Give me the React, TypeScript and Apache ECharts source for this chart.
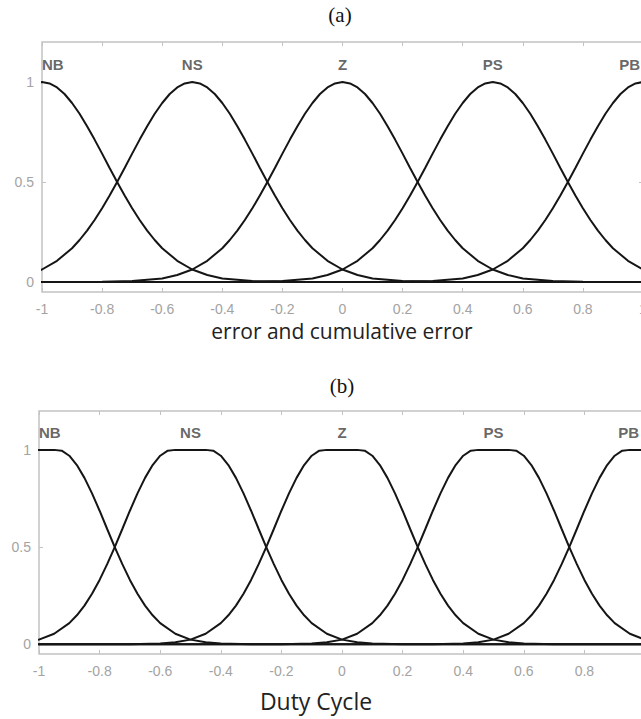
import React, { useEffect, useRef } from "react";
import * as echarts from "echarts";

// Fuzzy sets and where each one peaks on the normalised universe [-1, 1]
const categories = ["NB", "NS", "Z", "PS", "PB"];
const centers = [-1, -0.5, 0, 0.5, 1];

// Distance from a set's centre, and the membership read at that distance
const offsets = [
  0, 0.025, 0.05, 0.075, 0.1, 0.125, 0.15, 0.175, 0.2, 0.225, 0.25, 0.275, 0.3,
  0.325, 0.35, 0.375, 0.4, 0.45, 0.5, 0.55, 0.6, 0.7, 0.8, 1.0, 2.0,
];
// (a) bell-shaped sets of the error inputs
const errorShape = [
  1, 0.993, 0.973, 0.94, 0.895, 0.841, 0.779, 0.712, 0.642, 0.57, 0.5, 0.432,
  0.369, 0.31, 0.257, 0.21, 0.169, 0.106, 0.0625, 0.035, 0.018, 0.0044, 0.0008,
  0, 0,
];
// (b) flat-topped sets of the duty-cycle output
const dutyShape = [
  1, 1, 1, 0.996, 0.97, 0.922, 0.856, 0.776, 0.687, 0.593, 0.5, 0.412, 0.331,
  0.26, 0.199, 0.149, 0.109, 0.054, 0.024, 0.01, 0.0037, 0.0004, 0, 0, 0,
];

const yTickValues = [0, 0.5, 1];
const labelHeight = 1.09;

const AXIS_GREY = "#c2c2c2";
const TICK_TEXT = "#a3a3a3";
const CURVE = "#151515";

function buildCurve(center: number, shape: number[]): number[][] {
  const pts: number[][] = [];
  for (let i = offsets.length - 1; i >= 1; i--) pts.push([center - offsets[i], shape[i]]);
  for (let i = 0; i < offsets.length; i++) pts.push([center + offsets[i], shape[i]]);
  return pts;
}

function fmt(v: number): string {
  const r = Math.round(v * 100) / 100;
  return String(r);
}

export default function App() {
  const ref = useRef<HTMLDivElement>(null);

  useEffect(() => {
    if (!ref.current) return;
    const chart = echarts.init(ref.current, null, { renderer: "svg" });

    const grids = [
      { left: 42, top: 42, width: 601, height: 250 },
      { left: 39, top: 411, width: 606, height: 243 },
    ];

    const xAxes: any[] = [];
    const yAxes: any[] = [];
    grids.forEach((_, gi) => {
      const tick = {
        inside: true,
        length: 4,
        lineStyle: { color: AXIS_GREY, width: 1 },
      };
      const hiddenLine = { show: false, onZero: false };
      xAxes.push({
        gridIndex: gi,
        type: "value",
        position: "bottom",
        min: -1,
        max: 1,
        interval: 0.2,
        axisLine: hiddenLine,
        splitLine: { show: false },
        axisTick: tick,
        axisLabel: {
          color: TICK_TEXT,
          fontSize: 14,
          fontFamily: "Liberation Sans",
          margin: 10,
          formatter: (v: number) => fmt(v),
        },
      });
      xAxes.push({
        gridIndex: gi,
        type: "value",
        position: "top",
        min: -1,
        max: 1,
        interval: 0.2,
        axisLine: hiddenLine,
        splitLine: { show: false },
        axisTick: tick,
        axisLabel: { show: false },
      });
      yAxes.push({
        gridIndex: gi,
        type: "value",
        position: "left",
        min: -0.05,
        max: 1.2,
        axisLine: hiddenLine,
        splitLine: { show: false },
        axisTick: { ...tick, customValues: yTickValues },
        axisLabel: {
          customValues: yTickValues,
          color: TICK_TEXT,
          fontSize: 14,
          fontFamily: "Liberation Sans",
          margin: 8,
          formatter: (v: number) => fmt(v),
        },
      });
      yAxes.push({
        gridIndex: gi,
        type: "value",
        position: "right",
        min: -0.05,
        max: 1.2,
        axisLine: hiddenLine,
        splitLine: { show: false },
        axisTick: { ...tick, customValues: yTickValues },
        axisLabel: { show: false },
      });
    });

    const series: any[] = [];
    [errorShape, dutyShape].forEach((shape, gi) => {
      categories.forEach((name, k) => {
        series.push({
          type: "line",
          name: `${name}-${gi}`,
          xAxisIndex: gi * 2,
          yAxisIndex: gi * 2,
          data: buildCurve(centers[k], shape),
          showSymbol: false,
          symbol: "none",
          clip: true,
          lineStyle: { color: CURVE, width: 2 },
          silent: true,
        });
      });
      // set names written above each peak, the outer two kept inside the frame
      const last = categories.length - 1;
      series.push({
        type: "scatter",
        xAxisIndex: gi * 2,
        yAxisIndex: gi * 2,
        symbolSize: 0,
        silent: true,
        data: categories.map((name, k) => ({
          name,
          value: [centers[k], labelHeight],
          label: {
            align: k === 0 ? "left" : k === last ? "right" : "center",
            offset: k === last ? [gi === 0 ? -3 : -6, 0] : [0, 0],
          },
        })),
        label: {
          show: true,
          position: "inside",
          formatter: (p: any) => p.name,
          color: "#404040",
          fontSize: 15,
          fontWeight: "bold",
          fontFamily: "Liberation Sans",
        },
      });
    });

    chart.setOption({
      animation: false,
      backgroundColor: "#ffffff",
      grid: grids.map((g) => ({
        ...g,
        show: true,
        outerBoundsMode: "none",
        containLabel: false,
        borderColor: AXIS_GREY,
        borderWidth: 1.5,
        backgroundColor: "transparent",
      })),
      xAxis: xAxes,
      yAxis: yAxes,
      series,
      graphic: [
        {
          type: "text",
          x: 340,
          y: 15,
          style: {
            text: "(a)",
            font: '21px "Liberation Serif"',
            fill: "#111",
            textAlign: "center",
            textVerticalAlign: "middle",
          },
        },
        {
          type: "text",
          x: 342,
          y: 331,
          style: {
            text: "error and cumulative error",
            font: '21px "Open Sans"',
            fill: "#222",
            textAlign: "center",
            textVerticalAlign: "middle",
          },
        },
        {
          type: "text",
          x: 342,
          y: 386,
          style: {
            text: "(b)",
            font: '21px "Liberation Serif"',
            fill: "#111",
            textAlign: "center",
            textVerticalAlign: "middle",
          },
        },
        {
          type: "text",
          x: 316,
          y: 701,
          style: {
            text: "Duty Cycle",
            font: '23px "Open Sans"',
            fill: "#222",
            textAlign: "center",
            textVerticalAlign: "middle",
          },
        },
      ],
    });

    return () => chart.dispose();
  }, []);

  return (
    <div
      ref={ref}
      style={{
        position: "fixed",
        left: 0,
        top: 0,
        width: 641,
        height: 719,
        background: "#fff",
      }}
    />
  );
}
